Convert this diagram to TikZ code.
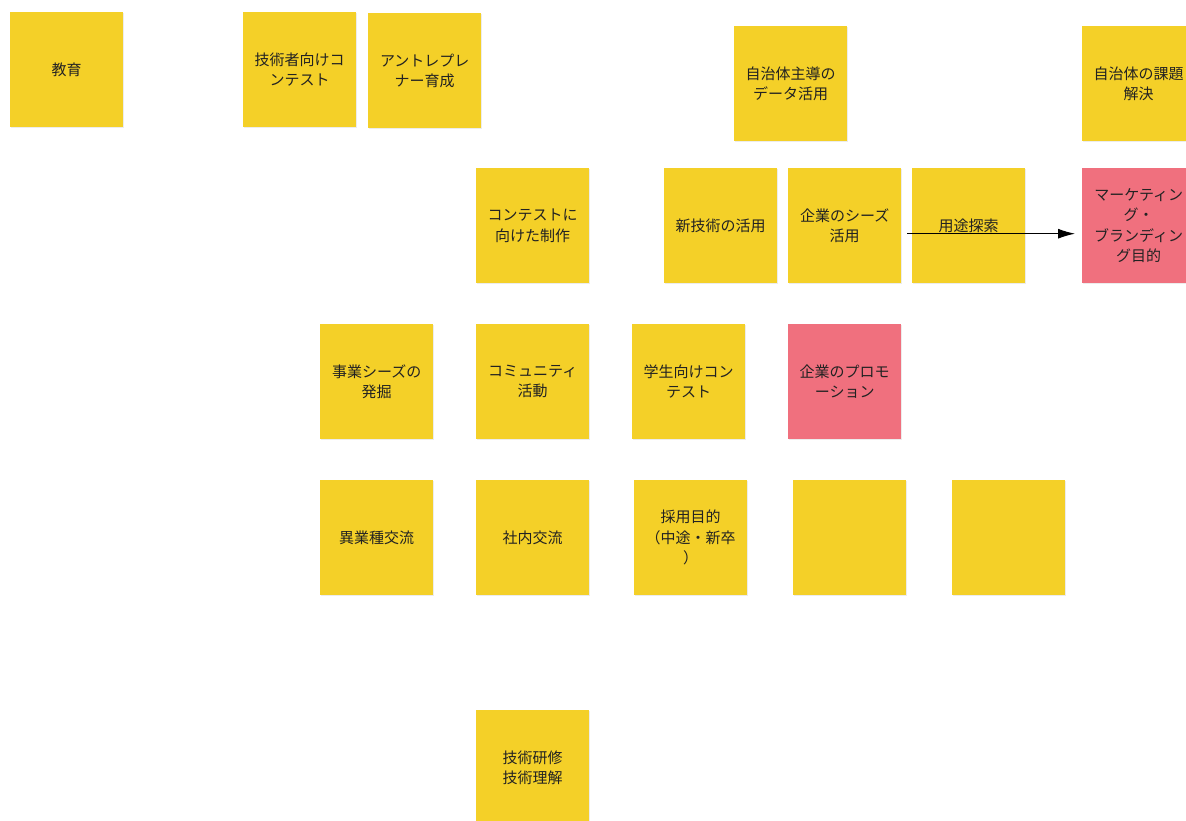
\documentclass[tikz,border=0pt]{standalone}
\usepackage{fontspec}
\newfontfamily\jp{Noto Sans CJK JP}
\usetikzlibrary{arrows.meta,shadows}
\definecolor{stickyY}{RGB}{244,208,40}
\definecolor{stickyP}{RGB}{240,112,126}
\definecolor{stickyTxt}{RGB}{34,34,34}
\tikzset{
  note/.style={fill=stickyY, anchor=north west, minimum width=113pt, minimum height=115pt,
    inner sep=0pt, align=center, text=stickyTxt, font=\jp\fontsize{15}{20.5}\selectfont,
    drop shadow={fill=black!12, shadow xshift=0.8pt, shadow yshift=-1pt, opacity=0.6}},
  pinknote/.style={note, fill=stickyP},
  conn/.style={draw=black, line width=1pt, -{Latex[length=17pt,width=10pt]}}
}
\begin{document}
\begin{tikzpicture}[x=1pt,y=-1pt]
\useasboundingbox (0,0) rectangle (1186,821);
\clip (0,0) rectangle (1186,821);
% row 1
\node[note] (kyoiku) at (10,12) {教育};
\node[note] (gijutsusha) at (243,12) {技術者向けコ\\ンテスト};
\node[note] (antore) at (368,13) {アントレプレ\\ナー育成};
\node[note] (jichitaiData) at (734,26) {自治体主導の\\データ活用};
\node[note] (jichitaiKadai) at (1082,26) {自治体の課題\\解決};
% row 2
\node[note] (contestSeisaku) at (476,168) {コンテストに\\向けた制作};
\node[note] (shingijutsu) at (664,168) {新技術の活用};
\node[note] (kigyoSeeds) at (788,168) {企業のシーズ\\活用};
\node[note] (yoto) at (912,168) {用途探索};
\node[pinknote] (marketing) at (1082,168) {マーケティン\\グ・\\ブランディン\\グ目的};
% row 3
\node[note] (jigyoSeeds) at (320,324) {事業シーズの\\発掘};
\node[note] (community) at (476,324) {コミュニティ\\活動};
\node[note] (gakusei) at (632,324) {学生向けコン\\テスト};
\node[pinknote] (promotion) at (788,324) {企業のプロモ\\ーション};
% row 4
\node[note] (igyoshu) at (320,480) {異業種交流};
\node[note] (shanai) at (476,480) {社内交流};
\node[note] (saiyo) at (634,480) {採用目的\\（中途・新卒\\）};
\node[note] (blankA) at (793,480) {};
\node[note] (blankB) at (952,480) {};
% bottom
\node[note] (kenshu) at (476,710) {技術研修\\技術理解};
% connector
\coordinate (arrStart) at ([xshift=6pt,yshift=-8pt]kigyoSeeds.east);
\draw[conn, shorten >=7pt] (arrStart) -- (arrStart -| marketing.west);
\end{tikzpicture}
\end{document}
